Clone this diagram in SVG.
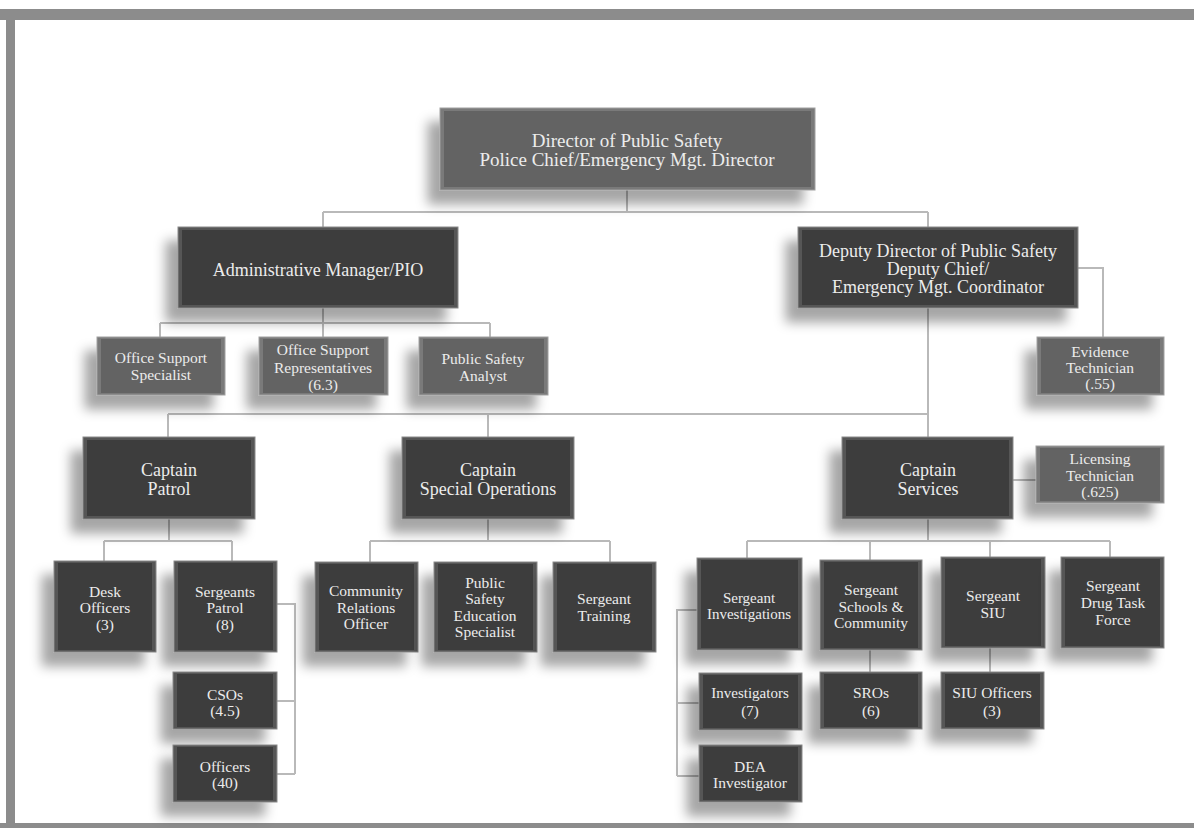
<svg xmlns="http://www.w3.org/2000/svg" width="1194" height="828" viewBox="0 0 1194 828">
<defs>
<filter id="sh" x="-40%" y="-40%" width="180%" height="190%">
<feGaussianBlur in="SourceAlpha" stdDeviation="6"/>
<feOffset dx="-12" dy="14" result="b"/>
<feFlood flood-color="#000" flood-opacity="0.35"/>
<feComposite in2="b" operator="in"/>
<feMerge><feMergeNode/><feMergeNode in="SourceGraphic"/></feMerge>
</filter>
<style>
.frame{fill:#8c8c8c}
.conn{fill:none;stroke:#b9b9b9;stroke-width:2}
.dark .o{fill:#565656;stroke:#8a8a8a;stroke-width:1;filter:url(#sh)}
.dark .i{fill:#3d3d3d}
.mid .o{fill:#7a7a7a;stroke:#a0a0a0;stroke-width:1;filter:url(#sh)}
.mid .i{fill:#636363}
text{font-family:"Liberation Serif","Times New Roman",serif;fill:#ececec;text-anchor:middle}
.xl{font-size:19px}
.l{font-size:18px}
.s{font-size:15.5px}
.xs{font-size:15px}
</style>
</defs>
<rect width="1194" height="828" fill="#ffffff"/>
<rect class="frame" x="0" y="9" width="1194" height="11"/>
<rect class="frame" x="6" y="9" width="9" height="819"/>
<rect class="frame" x="0" y="823" width="1194" height="5"/>

<g id="connectors">
<path class="conn" d="M627 190V212M323 212H928M323 212V227M928 212V227"/>
<path class="conn" d="M323 308V337M160 323H490M160 323V337M490 323V337"/>
<path class="conn" d="M1078 268H1103V337"/>
<path class="conn" d="M928 308V437M168 414H928M168 414V437M488 414V437"/>
<path class="conn" d="M1013 480H1036"/>
<path class="conn" d="M169 519V541M104 541H232M104 541V561M232 541V561"/>
<path class="conn" d="M277 604H295V774M277 701H295M277 774H295"/>
<path class="conn" d="M488 519V541M370 541H610M370 541V562M610 541V562"/>
<path class="conn" d="M928 519V541M747 541H1110M747 541V558M870 541V560M990 541V557M1110 541V557"/>
<path class="conn" d="M697 610H677V776M677 703H699M677 776H699"/>
<path class="conn" d="M870 650V672M990 648V672"/>
</g>

<g id="n-director" class="node mid">
<rect class="o" x="440" y="108" width="375" height="82"/><rect class="i" x="444" y="111" width="367" height="76"/>
<text class="xl" x="627" y="147">Director of Public Safety</text>
<text class="xl" x="627" y="166">Police Chief/Emergency Mgt. Director</text>
</g>
<g id="n-admin" class="node dark">
<rect class="o" x="178" y="227" width="280" height="81"/><rect class="i" x="182" y="230" width="272" height="75"/>
<text class="l" x="318" y="276">Administrative Manager/PIO</text>
</g>
<g id="n-deputy" class="node dark">
<rect class="o" x="798" y="227" width="280" height="81"/><rect class="i" x="802" y="230" width="272" height="75"/>
<text class="l" x="938" y="257">Deputy Director of Public Safety</text>
<text class="l" x="938" y="275">Deputy Chief/</text>
<text class="l" x="938" y="293">Emergency Mgt. Coordinator</text>
</g>
<g id="n-oss" class="node mid">
<rect class="o" x="97" y="337" width="128" height="58"/><rect class="i" x="101" y="339" width="120" height="54"/>
<text class="s" x="161" y="363">Office Support</text>
<text class="s" x="161" y="380">Specialist</text>
</g>
<g id="n-osr" class="node mid">
<rect class="o" x="259" y="337" width="129" height="58"/><rect class="i" x="263" y="339" width="121" height="54"/>
<text class="s" x="323" y="355">Office Support</text>
<text class="s" x="323" y="373">Representatives</text>
<text class="s" x="323" y="390">(6.3)</text>
</g>
<g id="n-psa" class="node mid">
<rect class="o" x="419" y="337" width="129" height="58"/><rect class="i" x="423" y="339" width="121" height="54"/>
<text class="s" x="483" y="364">Public Safety</text>
<text class="s" x="483" y="381">Analyst</text>
</g>
<g id="n-evidence" class="node mid">
<rect class="o" x="1037" y="337" width="127" height="58"/><rect class="i" x="1041" y="339" width="119" height="54"/>
<text class="s" x="1100" y="357">Evidence</text>
<text class="s" x="1100" y="373">Technician</text>
<text class="s" x="1100" y="389">(.55)</text>
</g>
<g id="n-cpatrol" class="node dark">
<rect class="o" x="83" y="437" width="172" height="82"/><rect class="i" x="87" y="440" width="164" height="76"/>
<text class="l" x="169" y="476">Captain</text>
<text class="l" x="169" y="495">Patrol</text>
</g>
<g id="n-cspecial" class="node dark">
<rect class="o" x="402" y="437" width="172" height="82"/><rect class="i" x="406" y="440" width="164" height="76"/>
<text class="l" x="488" y="476">Captain</text>
<text class="l" x="488" y="495">Special Operations</text>
</g>
<g id="n-cservices" class="node dark">
<rect class="o" x="842" y="437" width="171" height="82"/><rect class="i" x="846" y="440" width="163" height="76"/>
<text class="l" x="928" y="476">Captain</text>
<text class="l" x="928" y="495">Services</text>
</g>
<g id="n-licensing" class="node mid">
<rect class="o" x="1036" y="446" width="128" height="57"/><rect class="i" x="1040" y="448" width="120" height="53"/>
<text class="s" x="1100" y="464">Licensing</text>
<text class="s" x="1100" y="481">Technician</text>
<text class="s" x="1100" y="497">(.625)</text>
</g>
<g id="n-desk" class="node dark">
<rect class="o" x="54" y="561" width="102" height="91"/><rect class="i" x="58" y="563" width="94" height="87"/>
<text class="s" x="105" y="597">Desk</text>
<text class="s" x="105" y="613">Officers</text>
<text class="s" x="105" y="630">(3)</text>
</g>
<g id="n-sgtpatrol" class="node dark">
<rect class="o" x="174" y="561" width="103" height="91"/><rect class="i" x="178" y="563" width="95" height="87"/>
<text class="s" x="225" y="597">Sergeants</text>
<text class="s" x="225" y="613">Patrol</text>
<text class="s" x="225" y="630">(8)</text>
</g>
<g id="n-cso" class="node dark">
<rect class="o" x="173" y="672" width="104" height="57"/><rect class="i" x="177" y="674" width="96" height="53"/>
<text class="s" x="225" y="700">CSOs</text>
<text class="s" x="225" y="716">(4.5)</text>
</g>
<g id="n-officers" class="node dark">
<rect class="o" x="173" y="745" width="104" height="57"/><rect class="i" x="177" y="747" width="96" height="53"/>
<text class="s" x="225" y="772">Officers</text>
<text class="s" x="225" y="788">(40)</text>
</g>
<g id="n-cro" class="node dark">
<rect class="o" x="315" y="562" width="103" height="90"/><rect class="i" x="319" y="564" width="95" height="86"/>
<text class="s" x="366" y="596">Community</text>
<text class="s" x="366" y="613">Relations</text>
<text class="s" x="366" y="629">Officer</text>
</g>
<g id="n-pses" class="node dark">
<rect class="o" x="434" y="562" width="103" height="90"/><rect class="i" x="438" y="564" width="95" height="86"/>
<text class="s" x="485" y="588">Public</text>
<text class="s" x="485" y="604">Safety</text>
<text class="s" x="485" y="621">Education</text>
<text class="s" x="485" y="637">Specialist</text>
</g>
<g id="n-sgttraining" class="node dark">
<rect class="o" x="553" y="562" width="103" height="90"/><rect class="i" x="557" y="564" width="95" height="86"/>
<text class="s" x="604" y="604">Sergeant</text>
<text class="s" x="604" y="621">Training</text>
</g>
<g id="n-sgtinv" class="node dark">
<rect class="o" x="697" y="558" width="105" height="92"/><rect class="i" x="701" y="560" width="97" height="88"/>
<text class="xs" x="749" y="603">Sergeant</text>
<text class="xs" x="749" y="619">Investigations</text>
</g>
<g id="n-sgtschools" class="node dark">
<rect class="o" x="820" y="560" width="102" height="90"/><rect class="i" x="824" y="562" width="94" height="86"/>
<text class="s" x="871" y="595">Sergeant</text>
<text class="s" x="871" y="612">Schools &amp;</text>
<text class="s" x="871" y="628">Community</text>
</g>
<g id="n-sgtsiu" class="node dark">
<rect class="o" x="941" y="557" width="104" height="91"/><rect class="i" x="945" y="559" width="96" height="87"/>
<text class="s" x="993" y="601">Sergeant</text>
<text class="s" x="993" y="618">SIU</text>
</g>
<g id="n-sgtdrug" class="node dark">
<rect class="o" x="1061" y="557" width="103" height="91"/><rect class="i" x="1065" y="559" width="95" height="87"/>
<text class="s" x="1113" y="591">Sergeant</text>
<text class="s" x="1113" y="608">Drug Task</text>
<text class="s" x="1113" y="625">Force</text>
</g>
<g id="n-investigators" class="node dark">
<rect class="o" x="699" y="673" width="103" height="57"/><rect class="i" x="703" y="675" width="95" height="53"/>
<text class="xs" x="750" y="698">Investigators</text>
<text class="xs" x="750" y="716">(7)</text>
</g>
<g id="n-dea" class="node dark">
<rect class="o" x="699" y="745" width="103" height="57"/><rect class="i" x="703" y="747" width="95" height="53"/>
<text class="s" x="750" y="772">DEA</text>
<text class="s" x="750" y="788">Investigator</text>
</g>
<g id="n-sros" class="node dark">
<rect class="o" x="820" y="672" width="102" height="57"/><rect class="i" x="824" y="674" width="94" height="53"/>
<text class="s" x="871" y="698">SROs</text>
<text class="s" x="871" y="716">(6)</text>
</g>
<g id="n-siuofficers" class="node dark">
<rect class="o" x="941" y="672" width="103" height="57"/><rect class="i" x="945" y="674" width="95" height="53"/>
<text class="s" x="992" y="698">SIU Officers</text>
<text class="s" x="992" y="716">(3)</text>
</g>
</svg>
